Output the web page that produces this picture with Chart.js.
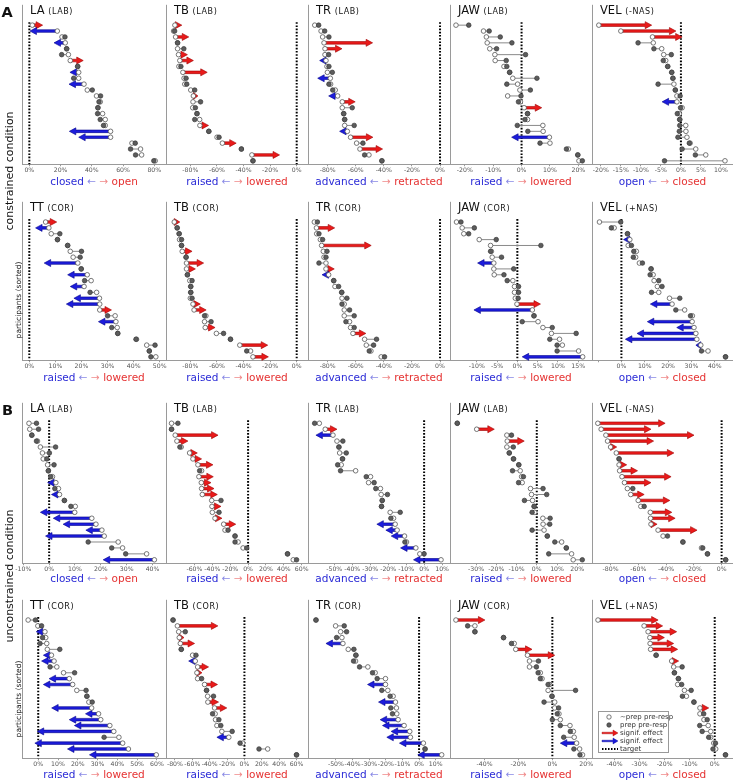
<!DOCTYPE html>
<html>
<head>
<meta charset="utf-8">
<script src="https://cdn.jsdelivr.net/npm/chart.js@4.4.0/dist/chart.umd.min.js"></script>
<style>
  body { margin: 0; background: #fff; width: 733px; height: 780px; position: relative; overflow: hidden;
         font-family: "DejaVu Sans", Verdana, sans-serif; color: #111; }
  canvas.panel { position: absolute; }
  .title { position: absolute; font-size: 11.5px; line-height: 13px; white-space: nowrap; }
  .title span { font-size: 8px; letter-spacing: 0.6px; }
  .xlab { position: absolute; font-size: 10.5px; line-height: 12px; white-space: nowrap; transform: translate(-50%, -50%); }
  .xlab .neg { color: #2b2bd6; }
  .xlab .pos { color: #e53232; }
  .xlab .na { color: #8a8ae6; }
  .xlab .pa { color: #f08a8a; }
  .side { position: absolute; white-space: nowrap; transform: translate(-50%, -50%) rotate(-90deg); }
  .letter { position: absolute; font-weight: bold; font-size: 14.5px; line-height: 15px; }
  #legend { position: absolute; left: 598px; top: 711px; width: 69px; height: 40px; border: 1px solid #999; background: #fff; }
  #legend div { position: absolute; left: 0; height: 8px; line-height: 8px; font-size: 7px; color: #333; white-space: nowrap; }
  #legend svg { position: absolute; left: 2px; top: 0; }
  #legend span { position: absolute; left: 21px; }
</style>
</head>
<body>
<script>
// open = ~prep pre-resp, prep = prep pre-resp (arrow tip when sig is set)
// sig: 1 = signif. effect (red), -1 = signif. effect (blue), 0 = none

// A, constrained, LAB row
const A_LA_open = [1.9, 17.9, 20.9, 23, 23.9, 25, 26.2, 31, 31.6, 31.6, 35, 37.1, 43, 45.4, 43.9, 46.9, 48.6, 48.6, 52, 52, 65.7, 71.2, 71.9, 80.6];
const A_LA_prep = [8.5, 0.4, 22.8, 15.8, 23.9, 20.7, 34.5, 30.9, 26, 28.4, 25.4, 40.3, 45.6, 44.6, 43.9, 43.7, 45.4, 47.5, 25.6, 31.6, 67.8, 64.8, 68, 79.7];
const A_LA_sig = [1, -1, 0, -1, 0, 0, 1, 0, -1, 0, -1, 0, 0, 0, 0, 0, 0, 0, -1, -1, 0, 0, 0, 0];

const A_TBlab_open = [-91.6, -92.6, -91.1, -89.6, -89.6, -88.9, -87.9, -88.6, -85.6, -84.7, -84.2, -79.7, -77.7, -78, -78.2, -75, -73, -72.8, -66.1, -59.9, -55.9, -41.6, -33.7, -32.9];
const A_TBlab_prep = [-86.4, -91.8, -81.2, -89.6, -84.9, -82.2, -77.7, -87.1, -67.3, -83.2, -82.7, -76.7, -74.3, -72.3, -76.2, -75, -76.7, -66.3, -66.1, -58.4, -45.5, -41.6, -12.9, -32.9];
const A_TBlab_sig = [1, 0, 1, 0, 0, 1, 1, 0, 1, 0, 0, 0, 1, 0, 0, 0, 0, 1, 0, 0, 1, 0, 1, 0];

const A_TRlab_open = [-89.2, -84.7, -83.6, -82.6, -81.9, -81.9, -81.2, -80.5, -80.2, -78.1, -77.9, -74.6, -72.9, -69.6, -69.6, -68.6, -67.9, -67.9, -66, -63.7, -59.4, -57, -50.6, -41.4];
const A_TRlab_prep = [-86.4, -82.1, -79.1, -48, -69.8, -79.3, -85.7, -79.1, -76.7, -87.1, -79.1, -76.4, -79.3, -60.4, -62.5, -68.6, -67.9, -61.1, -71.5, -47.8, -54.9, -40.9, -53.7, -41.4];
const A_TRlab_sig = [0, 0, 0, 1, 1, 0, -1, 0, 0, -1, 0, 0, -1, 1, 0, 0, 0, 0, -1, 1, 0, 1, 0, 0];

const A_JAWlab_open = [-23.1, -13.4, -12.4, -12.1, -11.2, -9.4, -9.3, -6.2, -4.2, -3.1, -1.4, -0.6, -4.9, -0.4, 0.9, 2.1, 2.1, 7.5, 7.6, 9.8, 10, 16.5, 19.8, 20.2];
const A_JAWlab_prep = [-18.6, -11.4, -7.5, -3.4, -8.8, 1.4, -5.4, -5.2, -4.2, 5.4, -5.2, 3.1, -0.2, -1.1, 7.1, 2.1, 1.2, -1.5, 2.2, -3.5, 6.5, 15.8, 19.8, 21.4];
const A_JAWlab_sig = [0, 0, 0, 0, 0, 0, 0, 0, 0, 0, 0, 0, 0, 0, 1, 0, 0, 0, 0, -1, 0, 0, 0, 0];

const A_VELneg_open = [-20.5, -15, -7.1, -6.9, -4.8, -4.3, -3.8, -3.3, -2.3, -2, -1.75, -1.4, -1, -1, 0.3, -0.4, -0.3, 1.2, 1.25, 1.5, 2.3, 3.7, 6.2, 11];
const A_VELneg_prep = [-7.3, -1.25, 0.3, -10.7, -6.75, -2.4, -4.4, -3.3, -2.3, -2, -5.7, -1.4, -0.2, -4.7, -0.1, -0.9, -0.3, -0.3, -0.4, -0.75, 2.1, 0.3, 3.6, -4.1];
const A_VELneg_sig = [1, 1, 1, 0, 0, 0, 0, 0, 0, 0, 0, 0, 0, -1, 0, 0, 0, 0, 0, 0, 0, 0, 0, 0];

// A, constrained, COR row
const A_TT_open = [6.25, 7.5, 8.4, 10.8, 14.7, 15.7, 16.8, 18.6, 19.9, 22.2, 23.7, 21, 25.8, 26.9, 27, 27, 32.9, 33.2, 33.7, 33.9, 41.1, 45, 46, 48.5];
const A_TT_prep = [10.5, 2.4, 11.7, 10.8, 14.7, 20, 19.5, 5.7, 19.9, 14.7, 21.2, 15.7, 23.3, 17.1, 14.2, 31.5, 30, 26.5, 31.6, 33.9, 40.9, 48.2, 46, 46.6];
const A_TT_sig = [1, -1, 0, 0, 0, 0, 0, -1, 0, -1, 0, -1, 0, -1, -1, 1, 0, -1, 0, 0, 0, 0, 0, 0];

const A_TBcor_open = [-92.1, -89.9, -88.4, -88.1, -86.6, -86.1, -83.2, -82.9, -82.9, -82.2, -80.4, -79.7, -79.7, -80, -78, -77.2, -68.3, -69.3, -68.8, -60.4, -49.8, -42.8, -34.7, -32.9];
const A_TBcor_prep = [-87.9, -89.9, -88.4, -86.6, -86.6, -78.7, -83.2, -70, -76.2, -82.2, -78.7, -79.7, -79.7, -78.7, -72.5, -68.1, -69.3, -64.4, -61.4, -55, -49.8, -21.8, -37.6, -21.3];
const A_TBcor_sig = [1, 0, 0, 0, 0, 1, 0, 1, 1, 0, 0, 0, 0, 0, 1, 1, 0, 0, 1, 0, 0, 1, 0, 1];

const A_TRcor_open = [-89.5, -88, -87.8, -85.2, -84.3, -83.1, -82.6, -81.2, -81.2, -79.3, -75.7, -74.8, -70, -69.8, -68.2, -68.2, -68.2, -64.4, -63.7, -62, -53.7, -52.5, -49.2, -41.9];
const A_TRcor_prep = [-87.3, -75, -86.2, -83.6, -49, -80.5, -81.2, -86.2, -75.3, -84, -75.7, -72.2, -70, -66.3, -69.8, -64.4, -61.1, -67, -61.1, -52.8, -45.2, -47.3, -50.4, -39.5];
const A_TRcor_sig = [0, 1, 0, 0, 1, 0, 0, 0, 1, -1, 0, 0, 0, 0, 0, 0, 0, 0, 0, 1, 0, 0, 0, 0];

const A_JAWcor_open = [-15, -13.6, -13.2, -9.4, -6.6, -6.4, -6.2, -5.8, -5.8, -5.7, -1.1, -0.7, -0.7, -0.5, -0.1, 3.7, 4.1, 5.1, 6.3, 8.4, 10.4, 11.1, 15.1, 16.1];
const A_JAWcor_prep = [-13.9, -10.6, -12, -5.2, 5.8, -6.6, -3.9, -9.8, -0.9, -3.3, -2.5, 0.3, 0.3, 0.2, 5.7, -10.7, 4.1, 1.2, 8.6, 14.5, 8, 9.8, 9.8, 1.2];
const A_JAWcor_sig = [0, 0, 0, 0, 0, 0, 0, -1, 0, 0, 0, 0, 0, 0, 1, -1, 0, 0, 0, 0, 0, 0, 0, -1];

const A_VELpos_open = [-9.4, -3.1, 2.6, 3.6, 2.9, 6.4, 6.1, 7.7, 12.7, 13.6, 14, 15.4, 16, 20.6, 21.7, 27.1, 30.4, 30.3, 31.1, 31.9, 32.3, 34, 37.1, 44.6];
const A_VELpos_prep = [-0.3, -4.3, 2.6, 0.9, 4.3, 5.3, 5.1, 9, 12.7, 12.3, 16, 17.4, 12.9, 25, 12.4, 23.3, 29.6, 11.1, 23.7, 6.7, 1.7, 31.9, 34.3, 44.6];
const A_VELpos_sig = [0, 0, 0, -1, 0, 0, 0, 0, 0, 0, 0, 0, 0, 0, -1, 0, 0, -1, -1, -1, -1, -1, 0, 0];

// B, unconstrained, LAB row
const B_LA_open = [-7.8, -7.5, -6.7, -4.5, -3.4, -2.6, -2.3, -0.6, -0.3, 1.3, 2.6, 3.6, 4, 5.9, 10.1, 9.9, 16.5, 18.1, 20.4, 21.3, 26.7, 28.4, 37.7, 40.7];
const B_LA_prep = [-4.9, -4.1, -6.7, -4.9, 2.5, 0.1, -0.9, 1.9, -0.3, 0.6, -0.6, 2.2, 0.9, 5.9, 8.4, -3.4, 1.6, 5.4, 14.2, -1.4, 15.1, 24.2, 29.6, 20.9];
const B_LA_sig = [0, 0, 0, 0, 0, 0, 0, 0, 0, 0, -1, 0, -1, 0, 0, -1, -1, -1, -1, -1, 0, 0, 0, -1];

const B_TBlab_open = [-85.6, -85.6, -81.5, -79.6, -74.8, -65.4, -61.7, -56.1, -52, -55, -52.3, -52, -51.2, -40.7, -40.4, -40, -37, -27.3, -25.8, -14.6, -11.2, -5.6, 44.1, 50.5];
const B_TBlab_prep = [-78.5, -85.6, -33.6, -67.3, -76.3, -56.8, -52, -39.3, -54.2, -38.9, -41.5, -38.1, -34.4, -30.3, -30.3, -32.5, -29.2, -13.8, -22.4, -14.6, -14.6, -1.5, 44.1, 54.2];
const B_TBlab_sig = [0, 0, 1, 1, 0, 1, 1, 1, 0, 1, 1, 1, 1, 0, 1, 0, 1, 1, 0, 0, 0, 0, 0, 0];

const B_TRlab_open = [-58.3, -55, -50.7, -48.5, -47.4, -47, -45.4, -46.1, -38.1, -29.8, -30.9, -24.3, -23.9, -23.3, -23.7, -18.9, -17, -16.1, -15, -10.9, -9.8, -4.6, -2.4, 9.4];
const B_TRlab_prep = [-60.9, -48.5, -60.2, -45.2, -47.4, -43.3, -45.4, -48.1, -46.5, -32.2, -27.8, -26.9, -20.4, -23.3, -23.7, -13.3, -18.5, -26.3, -21.3, -18.3, -10.7, -13.1, 0, -5.9];
const B_TRlab_sig = [0, 1, -1, 0, 0, 0, 0, 0, 0, 0, 0, 0, 0, 0, 0, 0, 0, -1, -1, -1, 0, -1, 0, -1];

const B_JAWlab_open = [-39.3, -29.7, -14.8, -14.6, -14.8, -13.6, -11.5, -8.9, -8.2, -7.5, -7.2, -3.1, -2.6, -2.1, -1.3, -1, 3, 3.1, 3.6, 5.2, 12.3, 14.6, 17.2, 18];
const B_JAWlab_prep = [-39.3, -21, -12.5, -6.2, -11.6, -13.6, -11.5, -8.9, -12, -6.6, -9, 3.1, 4.9, -6.1, -1.3, -2.3, 6.6, 6.4, -2.3, 5.2, 8.9, 14.6, 5.9, 22.5];
const B_JAWlab_sig = [0, 1, 0, 1, 0, 0, 0, 0, 0, 0, 0, 0, 0, 0, 0, 0, 0, 0, 0, 0, 0, 0, 0, 0];

const B_VELneg_open = [-89.2, -86.8, -83.4, -82.2, -80, -75.9, -73.9, -73.9, -73.5, -71.8, -70, -67.9, -65.5, -60.1, -58.2, -51.4, -51.2, -50.9, -45.8, -42.2, -27.9, -14.5, -10.2, 2.9];
const B_VELneg_prep = [-40.7, -50.9, -19.9, -49, -75.6, -34.4, -73.9, -68.4, -60.6, -36.4, -50.9, -64, -55.8, -37.3, -55.8, -35.9, -33.5, -46.5, -17.7, -39, -27.9, -13.6, -10.2, 2.9];
const B_VELneg_sig = [1, 1, 1, 1, 1, 1, 0, 1, 1, 1, 1, 0, 1, 1, 0, 1, 1, 1, 1, 0, 0, 0, 0, 0];

// B, unconstrained, COR row
const B_TT_open = [-5.1, -0.2, 3.4, 3.8, 4.3, 4.6, 6.7, 8, 9.4, 12.8, 15.7, 17.4, 19.5, 24.6, 25.6, 27, 30.5, 31.6, 36.2, 38.2, 40.8, 42.7, 45.6, 59.7];
const B_TT_prep = [-1.4, 1.7, -1, 2.2, 0.9, 10.9, 2.6, 1.7, 6, 18.4, 5.5, 2.6, 24.2, 24.6, 27.3, 6.8, 23.9, 15.7, 18.3, -0.5, 33.3, -1.7, 14.8, 25.9];
const B_TT_sig = [0, 0, -1, 0, 0, 0, -1, -1, 0, 0, -1, -1, 0, 0, 0, -1, -1, -1, -1, -1, 0, -1, -1, -1];

const B_TBcor_open = [-82.2, -77.2, -75.7, -75, -73.8, -72.7, -59.7, -56.6, -53.9, -54.7, -53.9, -45.9, -43.6, -42.4, -42.1, -34.4, -33.7, -33.3, -31.7, -26, -18, -1.9, 26.8, 60];
const B_TBcor_prep = [-82.2, -30.6, -68.1, -69.6, -57.4, -72.7, -55.8, -64.2, -41.3, -48.9, -49.3, -31, -43.6, -35.6, -29.8, -20.3, -36.7, -29.4, -27.2, -14.1, -31.7, -5, 16.8, 60];
const B_TBcor_sig = [0, 1, 0, 1, 1, 0, 0, -1, 1, 1, 0, 1, 0, 0, 1, 1, 0, 0, 0, 0, -1, 0, 0, 0];

const B_TRcor_open = [-62, -50.2, -47.2, -46.4, -45.8, -42.6, -38, -38.2, -30.8, -26.4, -20.2, -20.2, -18.8, -15.6, -14.2, -13.6, -13.4, -12.6, -9, -5.6, -5.2, 2.6, 3.6, 13.6];
const B_TRcor_prep = [-62, -45, -43.6, -49.6, -56, -39.2, -38, -39.4, -35.8, -28, -25.2, -31, -22.4, -17.4, -24.4, -17, -16, -23.4, -22, -16.8, -19.4, -11.8, 3.6, -0.8];
const B_TRcor_sig = [0, 0, 0, 0, -1, 0, 0, 0, 0, 0, 0, -1, 0, 0, -1, 0, 0, -1, -1, -1, -1, -1, 0, -1];

const B_JAWcor_open = [-56.9, -45.7, -45.7, -28.8, -22.5, -21.6, -14.7, -13.5, -13.5, -7.1, -6.1, -1.6, -2.5, -0.2, 1.4, 1.4, 3.9, 4.7, 10.4, 12.4, 12.9, 14.3, 16.1, 17.8];
const B_JAWcor_prep = [-39.8, -50, -45.7, -28.8, -24.1, -12, 1.4, -8.2, -9.4, -8.4, -7.1, -2.5, 13.7, -0.2, -4.9, 3.7, 2.9, 0, 4.7, 10.6, 6.7, 4.7, 12.7, 16.3];
const B_JAWcor_sig = [1, 0, 0, 0, 0, 1, 1, 0, 0, 0, 0, 0, 0, 0, 0, 0, 0, 0, 0, 0, 0, -1, 0, 0];

const B_VELpos_open = [-46.6, -28.2, -26.6, -25.9, -25.8, -25.6, -23.4, -17.2, -16.4, -16.1, -14.5, -14.8, -12.1, -11.3, -8.3, -5.9, -5.9, -4.3, -2.6, -1.6, -1.6, -0.4, 0.4, 4.3];
const B_VELpos_prep = [-22.6, -20.8, -15.2, -20.1, -16.4, -14.8, -23.4, -14.4, -13, -16.1, -14.5, -13.2, -9.4, -12.9, -8.3, -2.4, -4.4, -3, -6, -5, -2.4, 0.3, -0.7, 4.3];
const B_VELpos_sig = [1, 1, 1, 1, 1, 1, 0, 1, 0, 0, 0, 0, 0, 0, 0, 1, 0, 0, 0, 0, 0, 0, 0, 0];

// tick values (%)
const ticksA_LA = [0, 20, 40, 60, 80];
const ticksA_TB = [-80, -60, -40, -20, 0];
const ticksA_TR = [-80, -60, -40, -20, 0];
const ticksA_JAWlab = [-20, -10, 0, 10, 20];
const ticksA_VELneg = [-20, -15, -10, -5, 0, 5, 10];
const ticksA_TT = [0, 10, 20, 30, 40, 50];
const ticksA_JAWcor = [-10, -5, 0, 5, 10, 15];
const ticksA_VELpos = [-10, 0, 10, 20, 30, 40];
const ticksB_LA = [-10, 0, 10, 20, 30, 40];
const ticksB_TBlab = [-60, -40, -20, 0, 20, 40, 60];
const ticksB_TR = [-50, -40, -30, -20, -10, 0, 10];
const ticksB_JAWlab = [-30, -20, -10, 0, 10, 20];
const ticksB_VELneg = [-80, -60, -40, -20, 0];
const ticksB_TT = [0, 10, 20, 30, 40, 50, 60];
const ticksB_TBcor = [-80, -60, -40, -20, 0, 20, 40, 60];
const ticksB_JAWcor = [-40, -20, 0, 20];
const ticksB_VELpos = [-40, -30, -20, -10, 0];

// layout
const colX = [22, 166, 308, 450, 592];
const colW = [144, 142, 142, 142, 141];
const rowTop = [0, 197, 398, 595];
const rowAxis = [164, 360, 563, 758];
const labelY = [181, 377, 578, 774];
const PAD = 14;

const RED = '#ea1a1a', RED_EDGE = '#9e0000';
const BLUE = '#1c1cdc', BLUE_EDGE = '#00008a';

const panels = [
  { row: 0, col: 0, name: 'LA', tag: 'LAB', open: A_LA_open, prep: A_LA_prep, sig: A_LA_sig, ticks: ticksA_LA, min: -4.7, max: 87.5, lab: ['closed', 'open'] },
  { row: 0, col: 1, name: 'TB', tag: 'LAB', open: A_TBlab_open, prep: A_TBlab_prep, sig: A_TBlab_sig, ticks: ticksA_TB, min: -98.3, max: 8.5, lab: ['raised', 'lowered'] },
  { row: 0, col: 2, name: 'TR', tag: 'LAB', open: A_TRlab_open, prep: A_TRlab_prep, sig: A_TRlab_sig, ticks: ticksA_TR, min: -94, max: 7.1, lab: ['advanced', 'retracted'] },
  { row: 0, col: 3, name: 'JAW', tag: 'LAB', open: A_JAWlab_open, prep: A_JAWlab_prep, sig: A_JAWlab_sig, ticks: ticksA_JAWlab, min: -25.2, max: 24.8, lab: ['raised', 'lowered'] },
  { row: 0, col: 4, name: 'VEL', tag: '-NAS', open: A_VELneg_open, prep: A_VELneg_prep, sig: A_VELneg_sig, ticks: ticksA_VELneg, min: -22.2, max: 13, lab: ['open', 'closed'] },

  { row: 1, col: 0, name: 'TT', tag: 'COR', open: A_TT_open, prep: A_TT_prep, sig: A_TT_sig, ticks: ticksA_TT, min: -2.8, max: 52.4, lab: ['raised', 'lowered'] },
  { row: 1, col: 1, name: 'TB', tag: 'COR', open: A_TBcor_open, prep: A_TBcor_prep, sig: A_TBcor_sig, ticks: ticksA_TB, min: -98.3, max: 8.5, lab: ['raised', 'lowered'] },
  { row: 1, col: 2, name: 'TR', tag: 'COR', open: A_TRcor_open, prep: A_TRcor_prep, sig: A_TRcor_sig, ticks: ticksA_TR, min: -94, max: 7.1, lab: ['advanced', 'retracted'] },
  { row: 1, col: 3, name: 'JAW', tag: 'COR', open: A_JAWcor_open, prep: A_JAWcor_prep, sig: A_JAWcor_sig, ticks: ticksA_JAWcor, min: -16.6, max: 18.4, lab: ['raised', 'lowered'] },
  { row: 1, col: 4, name: 'VEL', tag: '+NAS', open: A_VELpos_open, prep: A_VELpos_prep, sig: A_VELpos_sig, ticks: ticksA_VELpos, blank: [-10], min: -12.6, max: 47.8, lab: ['open', 'closed'] },

  { row: 2, col: 0, name: 'LA', tag: 'LAB', open: B_LA_open, prep: B_LA_prep, sig: B_LA_sig, ticks: ticksB_LA, min: -10.5, max: 45.2, lab: ['closed', 'open'] },
  { row: 2, col: 1, name: 'TB', tag: 'LAB', open: B_TBlab_open, prep: B_TBlab_prep, sig: B_TBlab_sig, ticks: ticksB_TBlab, min: -91.8, max: 67, lab: ['raised', 'lowered'] },
  { row: 2, col: 2, name: 'TR', tag: 'LAB', open: B_TRlab_open, prep: B_TRlab_prep, sig: B_TRlab_sig, ticks: ticksB_TR, min: -64.6, max: 14.4, lab: ['advanced', 'retracted'] },
  { row: 2, col: 3, name: 'JAW', tag: 'LAB', open: B_JAWlab_open, prep: B_JAWlab_prep, sig: B_JAWlab_sig, ticks: ticksB_JAWlab, min: -42.9, max: 27.3, lab: ['raised', 'lowered'] },
  { row: 2, col: 4, name: 'VEL', tag: '-NAS', open: B_VELneg_open, prep: B_VELneg_prep, sig: B_VELneg_sig, ticks: ticksB_VELneg, min: -93.4, max: 8.2, lab: ['open', 'closed'] },

  { row: 3, col: 0, name: 'TT', tag: 'COR', open: B_TT_open, prep: B_TT_prep, sig: B_TT_sig, ticks: ticksB_TT, min: -8.2, max: 64.6, lab: ['raised', 'lowered'] },
  { row: 3, col: 1, name: 'TB', tag: 'COR', open: B_TBcor_open, prep: B_TBcor_prep, sig: B_TBcor_sig, ticks: ticksB_TBcor, min: -90.3, max: 73.2, lab: ['raised', 'lowered'] },
  { row: 3, col: 2, name: 'TR', tag: 'COR', open: B_TRcor_open, prep: B_TRcor_prep, sig: B_TRcor_sig, ticks: ticksB_TR, min: -66.8, max: 18.6, lab: ['advanced', 'retracted'] },
  { row: 3, col: 3, name: 'JAW', tag: 'COR', open: B_JAWcor_open, prep: B_JAWcor_prep, sig: B_JAWcor_sig, ticks: ticksB_JAWcor, min: -60.4, max: 23.4, lab: ['raised', 'lowered'] },
  { row: 3, col: 4, name: 'VEL', tag: '+NAS', open: B_VELpos_open, prep: B_VELpos_prep, sig: B_VELpos_sig, ticks: ticksB_VELpos, min: -49, max: 7.3, lab: ['open', 'closed'] },
];

function drawArrow(ctx, xs, xe, yy, fill, edge) {
    const dir = Math.sign(xe - xs) || 1;
    const len = Math.abs(xe - xs);
    const hl = Math.min(6.5, len);
    const hw = 3.5;
    const sw = 1.3;
    const xb = xe - dir * hl;

    ctx.beginPath();
    ctx.moveTo(xs, yy - sw);
    ctx.lineTo(xb, yy - sw);
    ctx.lineTo(xb, yy - hw);
    ctx.lineTo(xe, yy);
    ctx.lineTo(xb, yy + hw);
    ctx.lineTo(xb, yy + sw);
    ctx.lineTo(xs, yy + sw);
    ctx.closePath();
    ctx.fillStyle = fill;
    ctx.fill();
    ctx.strokeStyle = edge;
    ctx.lineWidth = 0.6;
    ctx.stroke();
}

const marksPlugin = {
    id: 'marks',
    beforeDatasetsDraw(chart, args, opts) {
        const p = opts.panel;
        const { ctx, chartArea: a } = chart;
        const x = chart.scales.x;
        const y = chart.scales.y;

        ctx.save();

        // left spine
        ctx.strokeStyle = '#9a9a9a';
        ctx.lineWidth = 1;
        ctx.beginPath();
        ctx.moveTo(a.left + 0.5, a.top);
        ctx.lineTo(a.left + 0.5, a.bottom);
        ctx.stroke();

        // target
        const x0 = x.getPixelForValue(0);
        ctx.setLineDash([1.6, 1.6]);
        ctx.strokeStyle = '#000';
        ctx.lineWidth = 2;
        ctx.beginPath();
        ctx.moveTo(x0, y.getPixelForValue(-0.5));
        ctx.lineTo(x0, a.bottom);
        ctx.stroke();
        ctx.setLineDash([]);

        // connecting lines
        ctx.strokeStyle = '#8a8a8a';
        ctx.lineWidth = 1;
        p.open.forEach((v, i) => {
            if (p.sig[i]) {
                return;
            }
            const yy = y.getPixelForValue(i);
            ctx.beginPath();
            ctx.moveTo(x.getPixelForValue(v), yy);
            ctx.lineTo(x.getPixelForValue(p.prep[i]), yy);
            ctx.stroke();
        });

        // significant effects
        p.open.forEach((v, i) => {
            if (!p.sig[i]) {
                return;
            }
            const yy = y.getPixelForValue(i);
            const red = p.sig[i] > 0;
            drawArrow(ctx, x.getPixelForValue(v), x.getPixelForValue(p.prep[i]), yy,
                red ? RED : BLUE, red ? RED_EDGE : BLUE_EDGE);
        });

        ctx.restore();
    },
};

function makePanel(p) {
    const left = colX[p.col];
    const top = rowTop[p.row];
    const w = colW[p.col];
    const h = rowAxis[p.row] - top;

    const canvas = document.createElement('canvas');
    canvas.className = 'panel';
    canvas.width = w + 2 * PAD;
    canvas.height = h + 12;
    canvas.style.left = (left - PAD) + 'px';
    canvas.style.top = top + 'px';
    document.body.appendChild(canvas);

    const blank = p.blank || [];

    new Chart(canvas.getContext('2d'), {
        type: 'scatter',
        data: {
            datasets: [
                {
                    label: 'prep pre-resp',
                    data: p.prep.map((v, i) => (p.sig[i] ? null : { x: v, y: i })).filter(Boolean),
                    backgroundColor: '#5c5c5c',
                    borderColor: '#3a3a3a',
                    borderWidth: 0.7,
                    pointRadius: 2.3,
                },
                {
                    label: '~prep pre-resp',
                    data: p.open.map((v, i) => ({ x: v, y: i })),
                    backgroundColor: '#ffffff',
                    borderColor: '#555555',
                    borderWidth: 0.8,
                    pointRadius: 2.3,
                },
            ],
        },
        options: {
            responsive: false,
            animation: false,
            events: [],
            layout: { padding: { left: PAD, right: PAD, top: 0, bottom: 2 } },
            plugins: {
                legend: { display: false },
                tooltip: { enabled: false },
                marks: { panel: p },
            },
            scales: {
                x: {
                    type: 'linear',
                    min: p.min,
                    max: p.max,
                    afterBuildTicks: (scale) => {
                        scale.ticks = p.ticks.map((v) => ({ value: v }));
                    },
                    border: { display: true, color: '#9a9a9a', width: 1 },
                    grid: { display: true, drawOnChartArea: false, drawTicks: true, tickLength: 2, color: '#9a9a9a' },
                    ticks: {
                        autoSkip: false,
                        maxRotation: 0,
                        padding: 0,
                        color: '#555',
                        font: { family: 'DejaVu Sans', size: 6.2, lineHeight: 1.25 },
                        callback: (v) => (blank.includes(v) ? '' : v + '%'),
                    },
                },
                y: {
                    type: 'linear',
                    display: false,
                    reverse: true,
                    min: -3.45,
                    max: 23.58,
                },
            },
        },
        plugins: [marksPlugin],
    });

    const title = document.createElement('div');
    title.className = 'title';
    title.style.left = (left + 8) + 'px';
    title.style.top = (top + 3.5) + 'px';
    title.innerHTML = p.name + ' <span>(' + p.tag + ')</span>';
    document.body.appendChild(title);

    const lab = document.createElement('div');
    lab.className = 'xlab';
    lab.style.left = (left + w / 2) + 'px';
    lab.style.top = labelY[p.row] + 'px';
    lab.innerHTML = '<span class="neg">' + p.lab[0] + '</span> <span class="na">←</span> <span class="pa">→</span> <span class="pos">' + p.lab[1] + '</span>';
    document.body.appendChild(lab);
}

function addText(cls, text, styles) {
    const el = document.createElement('div');
    el.className = cls;
    el.textContent = text;
    Object.assign(el.style, styles);
    document.body.appendChild(el);
}

function addLegend() {
    const box = document.createElement('div');
    box.id = 'legend';
    const items = [
        ['<circle cx="8" cy="4" r="2.2" fill="#fff" stroke="#555" stroke-width="0.8"/>', '~prep pre-resp'],
        ['<circle cx="8" cy="4" r="2.2" fill="#5c5c5c" stroke="#3a3a3a" stroke-width="0.7"/>', 'prep pre-resp'],
        ['<path d="M1 3.2 H12 V1 L17 4 L12 7 V4.8 H1 Z" fill="' + RED + '" stroke="' + RED_EDGE + '" stroke-width="0.4"/>', 'signif. effect'],
        ['<path d="M1 3.2 H12 V1 L17 4 L12 7 V4.8 H1 Z" fill="' + BLUE + '" stroke="' + BLUE_EDGE + '" stroke-width="0.4"/>', 'signif. effect'],
        ['<line x1="1" y1="4" x2="17" y2="4" stroke="#000" stroke-width="2" stroke-dasharray="1.5 1.5"/>', 'target'],
    ];
    items.forEach((item, i) => {
        const row = document.createElement('div');
        row.style.top = (1 + i * 7.9) + 'px';
        row.innerHTML = '<svg width="18" height="8" viewBox="0 0 18 8">' + item[0] + '</svg><span>' + item[1] + '</span>';
        box.appendChild(row);
    });
    document.body.appendChild(box);
}

document.addEventListener('DOMContentLoaded', () => {
    panels.forEach(makePanel);

    addText('letter', 'A', { left: '1.5px', top: '5px' });
    addText('letter', 'B', { left: '2px', top: '402.5px' });
    addText('side', 'constrained condition', { left: '9px', top: '171px', fontSize: '11px' });
    addText('side', 'unconstrained condition', { left: '9px', top: '576px', fontSize: '11px' });
    addText('side', 'participants (sorted)', { left: '17.5px', top: '300px', fontSize: '7.5px' });
    addText('side', 'participants (sorted)', { left: '17.5px', top: '699px', fontSize: '7.5px' });

    addLegend();
});
</script>
</body>
</html>
